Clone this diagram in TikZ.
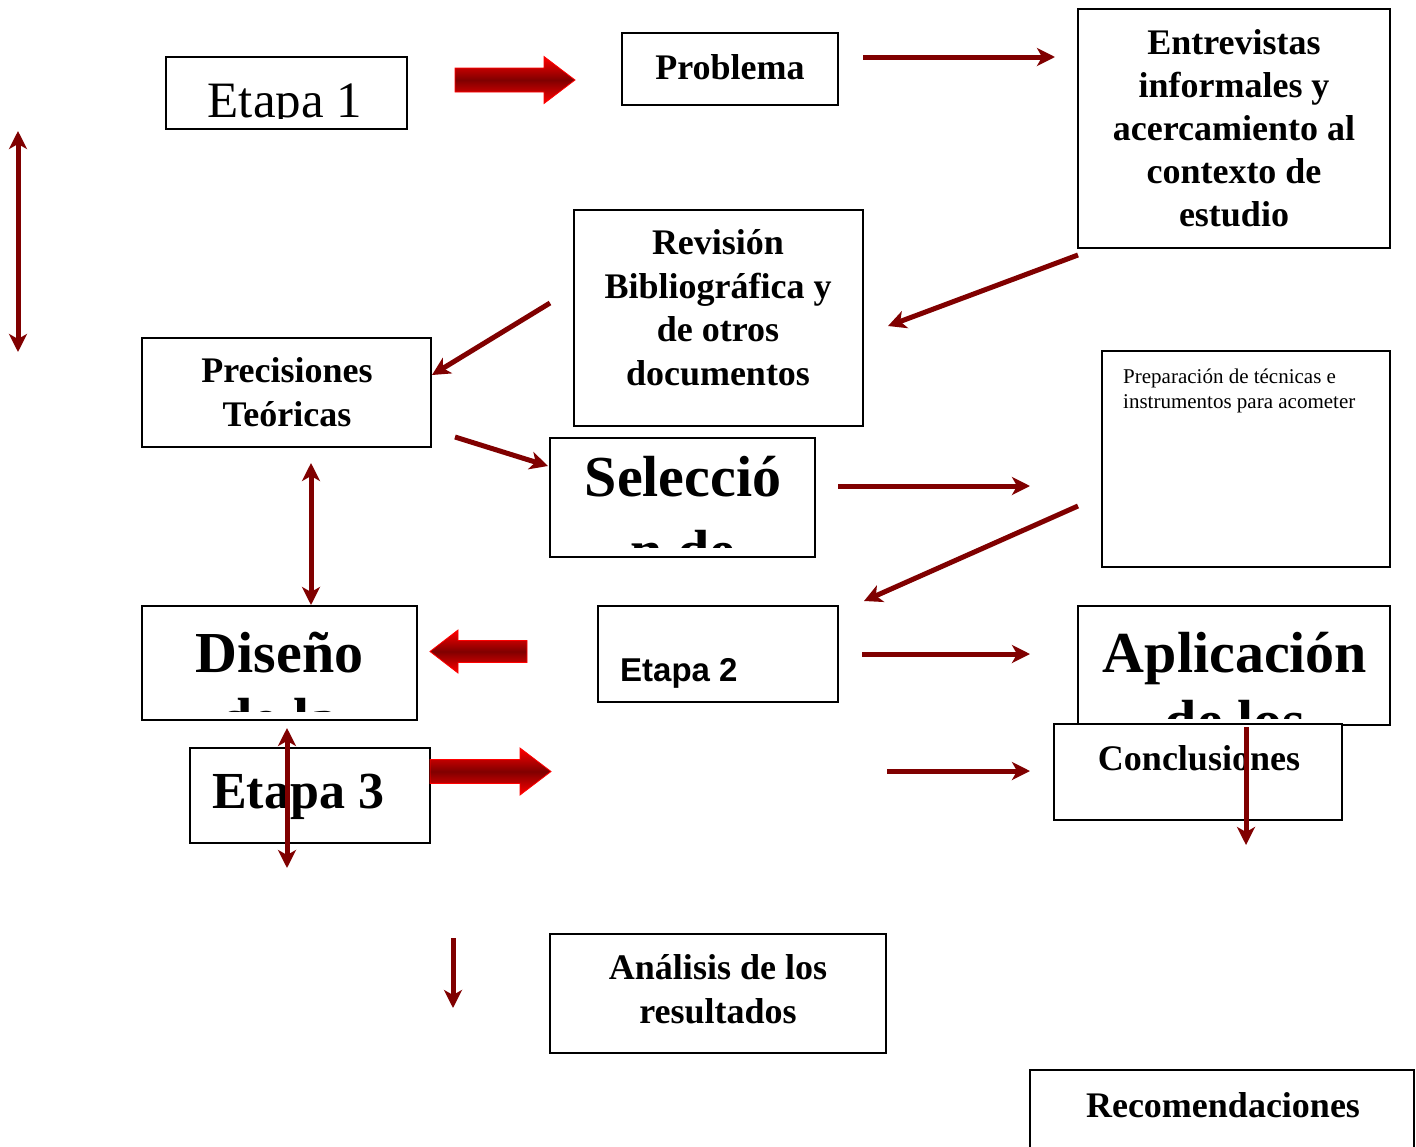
\documentclass[tikz,border=0pt]{standalone}
\usepackage{fontspec}
\setmainfont{Liberation Serif}
\newfontfamily\arialfont{Liberation Sans}
\usetikzlibrary{arrows.meta}
\definecolor{arrowred}{RGB}{128,0,0}
\definecolor{brightred}{RGB}{255,0,0}
\begin{document}
\begin{tikzpicture}[x=1pt,y=-1pt,
  box/.style={draw=black, line width=1.6pt, fill=white, rectangle, inner sep=0pt, outer sep=0pt, anchor=center},
  txt/.style={inner sep=0pt, align=center, anchor=base, font=\fontsize{36}{43.5}\selectfont\bfseries},
  bigtxt/.style={inner sep=0pt, align=center, anchor=base, font=\fontsize{58}{66}\selectfont\bfseries},
  smalltxt/.style={inner sep=0pt, align=left, anchor=base west, font=\fontsize{21}{25}\selectfont},
  conn/.style={draw=arrowred, line width=5pt, -{Stealth[length=18pt,width=18pt,inset=5pt]}},
  dconn/.style={draw=arrowred, line width=5pt, {Stealth[length=18pt,width=18pt,inset=5pt]}-{Stealth[length=18pt,width=18pt,inset=5pt]}},
  blockarrow/.style={draw=brightred, line width=0.8pt, top color=brightred, bottom color=brightred, middle color=arrowred}
]
\useasboundingbox (0,0) rectangle (1416,1146);

% ---------- boxes (multi-line texts are placed by the baseline of their last line) ----------
\node[box, minimum width=241pt, minimum height=72pt] (etapa1) at (286.5,93) {};
\begin{scope}
  \clip (167,58) rectangle (406,118);
  \node[inner sep=0pt, anchor=base, font=\fontsize{51}{60}\selectfont] (etapa1t) at (285,117) {Etapa 1};
\end{scope}

\node[box, minimum width=216pt, minimum height=72pt] (problema) at (730,69) {};
\node[txt] (problemat) at (730,79) {Problema};

\node[box, minimum width=312pt, minimum height=239pt] (entrev) at (1234,128.5) {};
\node[txt, font=\fontsize{36}{43}\selectfont\bfseries] (entrevt) at (1234,226) {Entrevistas\\informales y\\acercamiento al\\contexto de\\estudio};

\node[box, minimum width=289pt, minimum height=216pt] (revision) at (718.5,318) {};
\node[txt] (revisiont) at (718,385) {Revisión\\Bibliográfica y\\de otros\\documentos};

\node[box, minimum width=289pt, minimum height=109pt] (precis) at (286.5,392.5) {};
\node[txt] (precist) at (287,426) {Precisiones\\Teóricas};

\node[box, minimum width=265pt, minimum height=119pt] (seleccion) at (682.5,497.5) {};
\begin{scope}
  \clip (552,440) rectangle (813,547.5);
  \node[bigtxt, font=\fontsize{58}{74}\selectfont\bfseries] (selecciont) at (683,570) {Selecció\\n de};
\end{scope}

\node[box, minimum width=288pt, minimum height=216pt] (prepar) at (1246,459) {};
\node[smalltxt] (prepart) at (1123,408) {Preparación de técnicas e\\instrumentos para acometer};

\node[box, minimum width=275pt, minimum height=114pt] (diseno) at (279.5,663) {};
\begin{scope}
  \clip (144,608) rectangle (415,711.5);
  \node[bigtxt] (disenot) at (279.5,738) {Diseño\\de la};
\end{scope}

\node[box, minimum width=240pt, minimum height=96pt] (etapa2) at (718,654) {};
\node[inner sep=0pt, anchor=base west, font=\fontsize{33}{40}\arialfont\bfseries] (etapa2t) at (620,681) {Etapa 2};

\node[box, minimum width=312pt, minimum height=119pt] (aplic) at (1234,665.5) {};
\begin{scope}
  \clip (1080,608) rectangle (1388,718);
  \node[bigtxt, font=\fontsize{58}{68}\selectfont\bfseries] (aplict) at (1235,740) {Aplicación\\de los};
\end{scope}

\node[box, minimum width=288pt, minimum height=96pt] (concl) at (1198,772) {};
\node[txt] (conclt) at (1199,770) {Conclusiones};

\node[box, minimum width=240pt, minimum height=95pt] (etapa3) at (310,795.5) {};
\node[inner sep=0pt, anchor=base west, font=\fontsize{52}{60}\selectfont\bfseries] (etapa3t) at (212,808) {Etapa 3};

\node[box, minimum width=336pt, minimum height=119pt] (analisis) at (718,993.5) {};
\node[txt] (analisist) at (718,1023) {Análisis de los\\resultados};

\node[box, minimum width=384pt, minimum height=100pt] (recom) at (1222,1120) {};
\node[txt] (recomt) at (1223,1117) {Recomendaciones};

% ---------- block arrows ----------
\path[blockarrow] (455,68) -- (544,68) -- (544,56.5) -- (575,80) -- (544,103.5) -- (544,92) -- (455,92) -- cycle;
\path[blockarrow] (527,640.5) -- (458,640.5) -- (458,630) -- (430,651.5) -- (458,673) -- (458,662.5) -- (527,662.5) -- cycle;
\path[blockarrow] (430,759.5) -- (520,759.5) -- (520,748) -- (551,771.5) -- (520,795) -- (520,783.5) -- (430,783.5) -- cycle;

% ---------- connector end points ----------
\coordinate (c1s) at (863,57);   \coordinate (c1e) at (1055,57);
\coordinate (c2s) at (1078,255); \coordinate (c2e) at (888,326);
\coordinate (c3s) at (550,303);  \coordinate (c3e) at (432,375);
\coordinate (c4s) at (455,437);  \coordinate (c4e) at (548,466);
\coordinate (c5s) at (838,486);  \coordinate (c5e) at (1030,486);
\coordinate (c6s) at (1078,506); \coordinate (c6e) at (864,601);
\coordinate (c7s) at (311,463);  \coordinate (c7e) at (311,605);
\coordinate (c8s) at (862,654);  \coordinate (c8e) at (1030,654);
\coordinate (c9s) at (1246,727); \coordinate (c9e) at (1246,845);
\coordinate (c10s) at (287,728); \coordinate (c10e) at (287,868);
\coordinate (c11s) at (887,771); \coordinate (c11e) at (1030,771);
\coordinate (c12s) at (453,938); \coordinate (c12e) at (453,1008);
\coordinate (c13s) at (18,131);  \coordinate (c13e) at (18,352);

% ---------- connectors ----------
\draw[conn] (c1s) -- (c1e);
\draw[conn] (c2s) -- (c2e);
\draw[conn] (c3s) -- (c3e);
\draw[conn] (c4s) -- (c4e);
\draw[conn] (c5s) -- (c5e);
\draw[conn] (c6s) -- (c6e);
\draw[dconn] (c7s) -- (c7e);
\draw[conn] (c8s) -- (c8e);
\draw[conn] (c9s) -- (c9e);
\draw[dconn] (c10s) -- (c10e);
\draw[conn] (c11s) -- (c11e);
\draw[conn] (c12s) -- (c12e);
\draw[dconn] (c13s) -- (c13e);
\end{tikzpicture}
\end{document}
